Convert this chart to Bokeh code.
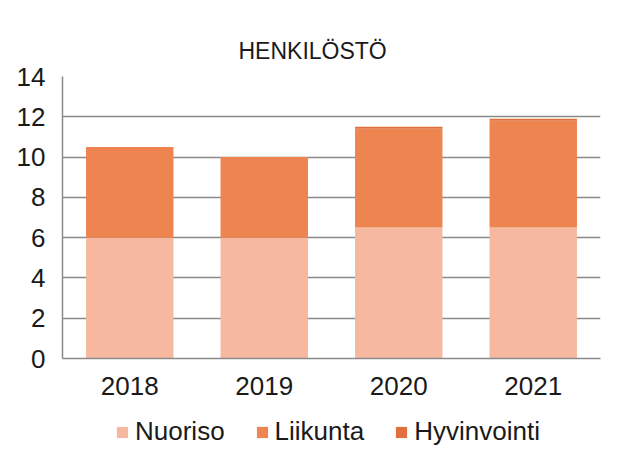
from bokeh.plotting import figure
from bokeh.layouts import column
from bokeh.models import ColumnDataSource, FactorRange, Range1d, Legend, FixedTicker
from bokeh.embed import file_html
from bokeh.resources import INLINE

years = ["2018", "2019", "2020", "2021"]
series = ["Nuoriso", "Liikunta", "Hyvinvointi"]
nuoriso = [6.0, 6.0, 6.5, 6.5]
liikunta = [4.5, 4.0, 4.9, 5.3]
hyvinvointi = [0.0, 0.0, 0.1, 0.1]
colors = ["#F6B9A0", "#EE8450", "#E2703F"]
y_ticks = [0, 2, 4, 6, 8, 10, 12, 14]

src = ColumnDataSource(dict(year=years, Nuoriso=nuoriso, Liikunta=liikunta, Hyvinvointi=hyvinvointi))

FONT = "Liberation Sans"

p = figure(x_range=FactorRange(*years, range_padding=0), y_range=Range1d(0, 14),
           width=625, height=404, output_backend="svg", toolbar_location=None,
           title="HENKILÖSTÖ", min_border_left=62, min_border_right=25,
           min_border_top=76, min_border_bottom=46)

renderers = p.vbar_stack(series, x="year", width=0.65, color=colors, source=src, line_width=0)

p.title.align = "left"
p.title.offset = 176
p.title.text_font = FONT
p.title.text_font_size = "23px"
p.title.text_font_style = "normal"
p.title.text_color = "#1a1a1a"
p.title.standoff = 26

p.outline_line_color = None
p.xgrid.grid_line_color = None
p.ygrid.grid_line_color = "#8a8a8a"
p.ygrid.grid_line_width = 1.5
p.yaxis.ticker = FixedTicker(ticks=y_ticks)

for ax in (p.xaxis[0], p.yaxis[0]):
    ax.axis_line_color = "#8a8a8a"
    ax.axis_line_width = 1.5
    ax.major_tick_line_color = None
    ax.minor_tick_line_color = None
    ax.major_tick_out = 0
    ax.major_tick_in = 0
    ax.minor_tick_out = 0
    ax.major_label_text_font = FONT
    ax.major_label_text_font_size = "26px"
    ax.major_label_text_color = "#1a1a1a"

p.yaxis.major_label_standoff = 17
p.xaxis.major_label_standoff = 18

# legend strip below the chart
p2 = figure(x_range=FactorRange(*years), y_range=Range1d(100, 101),
            width=625, height=44, output_backend="svg", toolbar_location=None,
            min_border_left=0, min_border_right=0, min_border_top=0, min_border_bottom=0)
p2.axis.visible = False
p2.grid.visible = False
p2.outline_line_color = None
legend_renderers = p2.vbar_stack(series, x="year", width=0.65, color=colors, source=src, line_width=0)

legend = Legend(items=[(s, [r]) for s, r in zip(series, legend_renderers)],
                orientation="horizontal", location=(53, 1),
                label_text_font=FONT, label_text_font_size="26px", label_text_color="#1a1a1a",
                glyph_width=14, glyph_height=14, spacing=30, label_standoff=6,
                border_line_color=None, background_fill_alpha=0, padding=3, margin=0)
p2.add_layout(legend, "center")

layout = column(p, p2, spacing=0)

open("out.html", "w").write(file_html(layout, INLINE))
